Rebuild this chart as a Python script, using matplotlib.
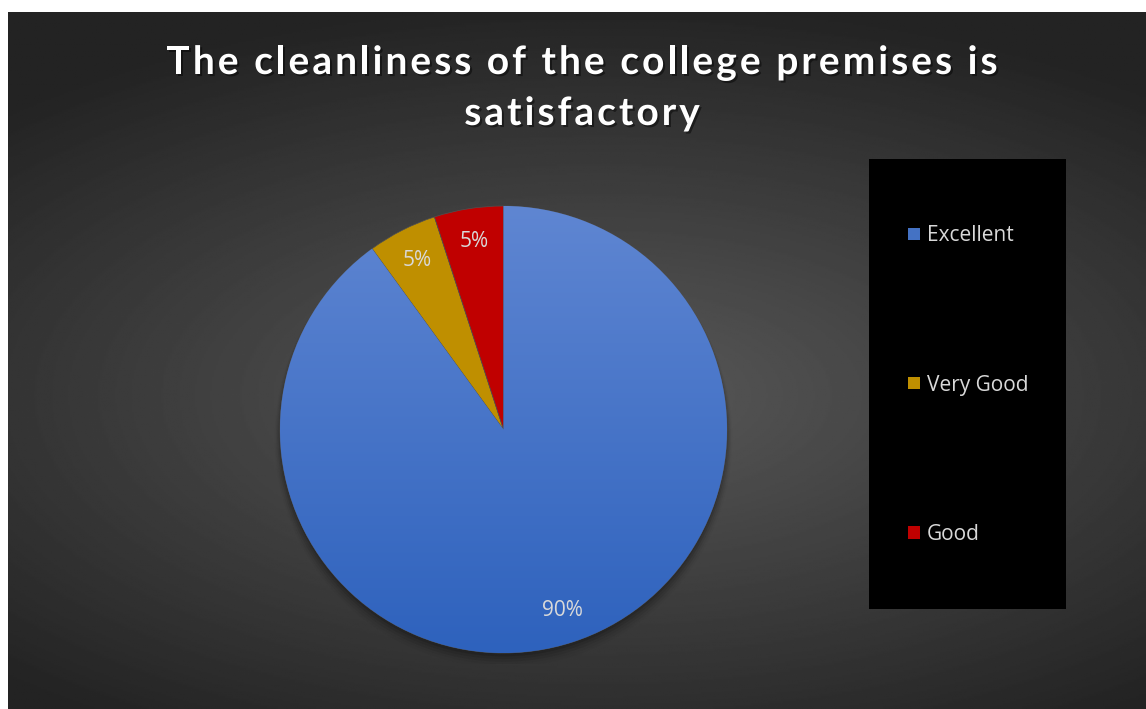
import numpy as np
import matplotlib
matplotlib.use("Agg")
import matplotlib.pyplot as plt
import matplotlib.patheffects as pe
from matplotlib.font_manager import FontProperties
from matplotlib.patches import Rectangle, Patch, Circle

labels = ["Excellent", "Very Good", "Good"]
shares = [90, 5, 5]
colors = ["#4472C4", "#BF8F00", "#C00000"]
title_lines = ["The cleanliness of the college premises is", "satisfactory"]

W, H = 1146, 709
fig = plt.figure(figsize=(W / 100, H / 100), dpi=100, facecolor="white")
renderer = fig.canvas.get_renderer()

# dark radial background, leaving the thin white margin top/left
bg = fig.add_axes([8 / W, 0, 1 - 8 / W, 1 - 12 / H])
yy, xx = np.mgrid[0:1:400j, 0:1:600j]
rr = np.sqrt(((xx - 0.52) / 1.0) ** 2 + ((yy - 0.55) / 0.75) ** 2)
shade = np.clip(0.35 - 0.28 * rr, 0.14, 0.35)
bg.imshow(shade, cmap="gray", vmin=0, vmax=1, aspect="auto",
          extent=[0, 1, 0, 1], origin="upper")
bg.set_axis_off()


def text_width(s, prop):
    # pad with a marker glyph so trailing spaces keep their advance
    w, _, _ = renderer.get_text_width_height_descent(s + "x", prop, ismath=False)
    wx, _, _ = renderer.get_text_width_height_descent("x", prop, ismath=False)
    return w - wx


def spaced_text(line, x_center, y_base, prop, spacing):
    n = len(line)
    total = text_width(line, prop) + spacing * (n - 1)
    x0 = x_center - total / 2
    for i, ch in enumerate(line):
        if ch == " ":
            continue
        x = x0 + text_width(line[:i], prop) + spacing * i
        fig.text(x / W, 1 - y_base / H, ch, ha="left", va="baseline",
                 color="white", fontproperties=prop,
                 path_effects=[pe.withSimplePatchShadow(
                     offset=(1.5, -1.5), shadow_rgbFace="black", alpha=0.45)])


title_prop = FontProperties(family="Lato", weight="bold", size=28)
natural = text_width(title_lines[0], title_prop)
gap = (831 - natural) / (len(title_lines[0]) - 1)
spaced_text(title_lines[0], 582, 74, title_prop, gap)
spaced_text(title_lines[1], 582, 125, title_prop, gap)

# pie
cx, cy, r = 503.5, 429.5, 223.5
pad = 1.05
ax = fig.add_axes([(cx - r * pad) / W, (H - cy - r * pad) / H,
                   2 * r * pad / W, 2 * r * pad / H])
wedges, _, pcts = ax.pie(shares, colors=colors, startangle=90, counterclock=False,
                         autopct="%d%%", pctdistance=0.85,
                         wedgeprops=dict(linewidth=0.5, edgecolor="#505050"),
                         textprops=dict(color="#D9D9D9", fontsize=15,
                                        family="Open Sans"))

# vertical gradient on the big slice
grad = np.linspace(0, 1, 256).reshape(-1, 1)
cmap = matplotlib.colors.LinearSegmentedColormap.from_list(
    "blue", ["#5F86D2", "#2E62BD"])
im = ax.imshow(grad, cmap=cmap, extent=[-1, 1, -1, 1], origin="upper",
               aspect="auto", zorder=wedges[0].get_zorder() + 0.1)
im.set_clip_path(wedges[0])
for t in pcts:
    t.set_zorder(5)

# soft shadow under the pie
for k, a in enumerate(np.linspace(0.12, 0.02, 5)):
    ax.add_patch(Circle((0.0, -0.015 - 0.006 * k), 1.0 + 0.006 * k,
                        facecolor="black", alpha=a, edgecolor="none", zorder=0))
ax.set_xlim(-pad, pad)
ax.set_ylim(-pad, pad)
ax.set_axis_off()

# legend panel
fig.patches.append(Rectangle((869 / W, 1 - 609 / H), 197 / W, 450 / H,
                             transform=fig.transFigure, facecolor="black",
                             edgecolor="none", zorder=1))
handles = [Patch(facecolor=c, edgecolor="none") for c in colors]
leg = fig.legend(handles, labels, loc="upper left",
                 bbox_to_anchor=(898 / W, 1 - 215 / H), frameon=False,
                 labelspacing=6.15, handlelength=0.55,
                 handleheight=0.55, handletextpad=0.35, borderpad=0,
                 prop=dict(family="Open Sans", size=15))
for t in leg.get_texts():
    t.set_color("#D9D9D9")
leg.set_zorder(3)

fig.savefig("out.png", dpi=100, facecolor="white")
